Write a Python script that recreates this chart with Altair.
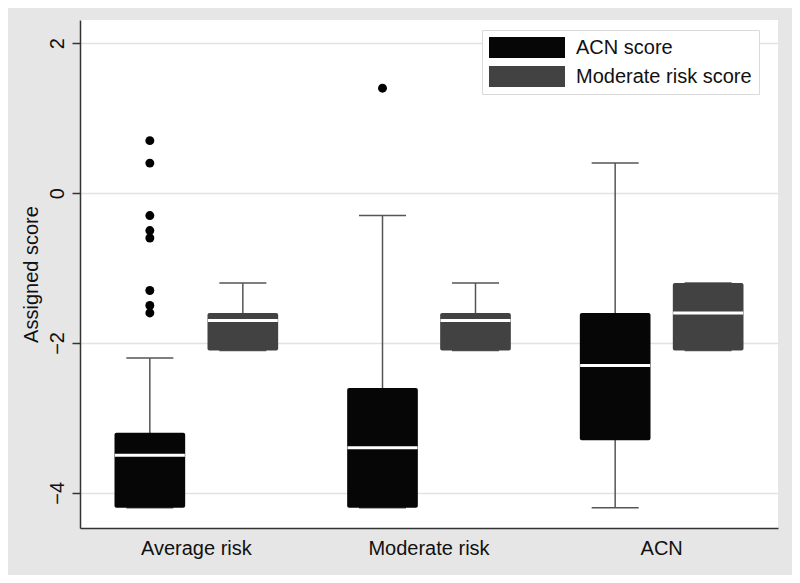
import altair as alt
import pandas as pd

# ---- data ----
groups = ["Average risk", "Moderate risk", "ACN"]
series = ["ACN score", "Moderate risk score"]

acn_whisker_low = [-4.2, -4.2, -4.2]
acn_q1 = [-4.2, -4.2, -3.3]
acn_median = [-3.5, -3.4, -2.3]
acn_q3 = [-3.2, -2.6, -1.6]
acn_whisker_high = [-2.2, -0.3, 0.4]

mod_whisker_low = [-2.1, -2.1, -2.1]
mod_q1 = [-2.1, -2.1, -2.1]
mod_median = [-1.7, -1.7, -1.6]
mod_q3 = [-1.6, -1.6, -1.2]
mod_whisker_high = [-1.2, -1.2, -1.2]

outlier_groups = ["Average risk"] * 8 + ["Moderate risk"]
outlier_series = ["ACN score"] * 9
outlier_values = [0.7, 0.4, -0.3, -0.5, -0.6, -1.3, -1.5, -1.6, 1.4]

y_ticks = [-4, -2, 0, 2]

# ---- tables ----
rows = []
for i, g in enumerate(groups):
    rows.append(dict(group=g, series=series[0], wlo=acn_whisker_low[i], q1=acn_q1[i],
                     med=acn_median[i], q3=acn_q3[i], whi=acn_whisker_high[i]))
    rows.append(dict(group=g, series=series[1], wlo=mod_whisker_low[i], q1=mod_q1[i],
                     med=mod_median[i], q3=mod_q3[i], whi=mod_whisker_high[i]))
box_df = pd.DataFrame(rows)
out_df = pd.DataFrame(dict(group=outlier_groups, series=outlier_series, value=outlier_values))

FONT = "Liberation Sans"
TXT = "#111111"

x_enc = alt.X("group:N", sort=groups, title=None,
              scale=alt.Scale(paddingInner=0, paddingOuter=0),
              axis=alt.Axis(labelAngle=0, ticks=False, grid=False, labelFontSize=20,
                            labelFont=FONT, labelColor=TXT, labelPadding=10,
                            domainColor="#333333", domainWidth=1.5))
xo_enc = alt.XOffset("series:N", sort=series,
                     scale=alt.Scale(domain=series, paddingInner=0.24, paddingOuter=0.371))
y_scale = alt.Scale(domain=[-4.47, 2.31], nice=False, zero=False)
y_axis = alt.Axis(values=y_ticks, labelAngle=270, title="Assigned score",
                  grid=True, gridColor="#e2e2e2", gridWidth=1.5,
                  tickSize=8, tickColor="#333333", tickWidth=1.5,
                  domainColor="#333333", domainWidth=1.5,
                  labelFontSize=20, labelFont=FONT, labelColor=TXT, labelPadding=5,
                  labelAlign="center", labelBaseline="bottom",
                  titleFontSize=20, titleFont=FONT, titleColor=TXT, titleFontWeight="normal",
                  titlePadding=6)

base_box = alt.Chart(box_df)

whiskers = base_box.mark_rule(color="#555555", strokeWidth=1.5, opacity=1).encode(
    x=x_enc, xOffset=xo_enc,
    y=alt.Y("wlo:Q", scale=y_scale, axis=y_axis), y2="whi:Q")

cap_hi = base_box.mark_tick(color="#555555", thickness=1.5, size=47, opacity=1).encode(
    x=x_enc, xOffset=xo_enc, y=alt.Y("whi:Q", scale=y_scale, axis=y_axis))
cap_lo = base_box.mark_tick(color="#555555", thickness=1.5, size=47, opacity=1).encode(
    x=x_enc, xOffset=xo_enc, y=alt.Y("wlo:Q", scale=y_scale, axis=y_axis))

boxes = base_box.mark_bar(cornerRadius=2, opacity=1).encode(
    x=x_enc, xOffset=xo_enc,
    y=alt.Y("q1:Q", scale=y_scale, axis=y_axis), y2="q3:Q",
    color=alt.Color("series:N", sort=series,
                    scale=alt.Scale(domain=series, range=["#060606", "#424242"]),
                    legend=alt.Legend(title=None, orient="none", legendX=402, legendY=10,
                                      symbolType="M-3.619,-1H3.619V1H-3.619Z",
                                      symbolSize=441, symbolOffset=27.5,
                                      symbolStrokeWidth=0, symbolOpacity=1,
                                      labelFontSize=20, labelFont=FONT, labelColor=TXT,
                                      labelLimit=400, labelOffset=38.5, rowPadding=8,
                                      padding=7, strokeColor="#dadada", fillColor="white")))

medians = base_box.mark_tick(color="white", thickness=3, size=70, opacity=1).encode(
    x=x_enc, xOffset=xo_enc, y=alt.Y("med:Q", scale=y_scale, axis=y_axis))

outliers = alt.Chart(out_df).mark_circle(size=80, color="#000000", opacity=1).encode(
    x=x_enc, xOffset=xo_enc, y=alt.Y("value:Q", scale=y_scale, axis=y_axis))

chart = alt.layer(whiskers, cap_hi, cap_lo, boxes, medians, outliers).properties(
    width=698, height=508,
    background="#e6e6e6",
    padding={"left": 72, "top": 12, "right": 14, "bottom": 47},
    autosize=alt.AutoSizeParams(type="none"),
).configure_view(stroke=None, fill="white").configure_axisY(labelAngle=270)

chart.save("out.html", embed_options={"renderer": "svg", "actions": False})
